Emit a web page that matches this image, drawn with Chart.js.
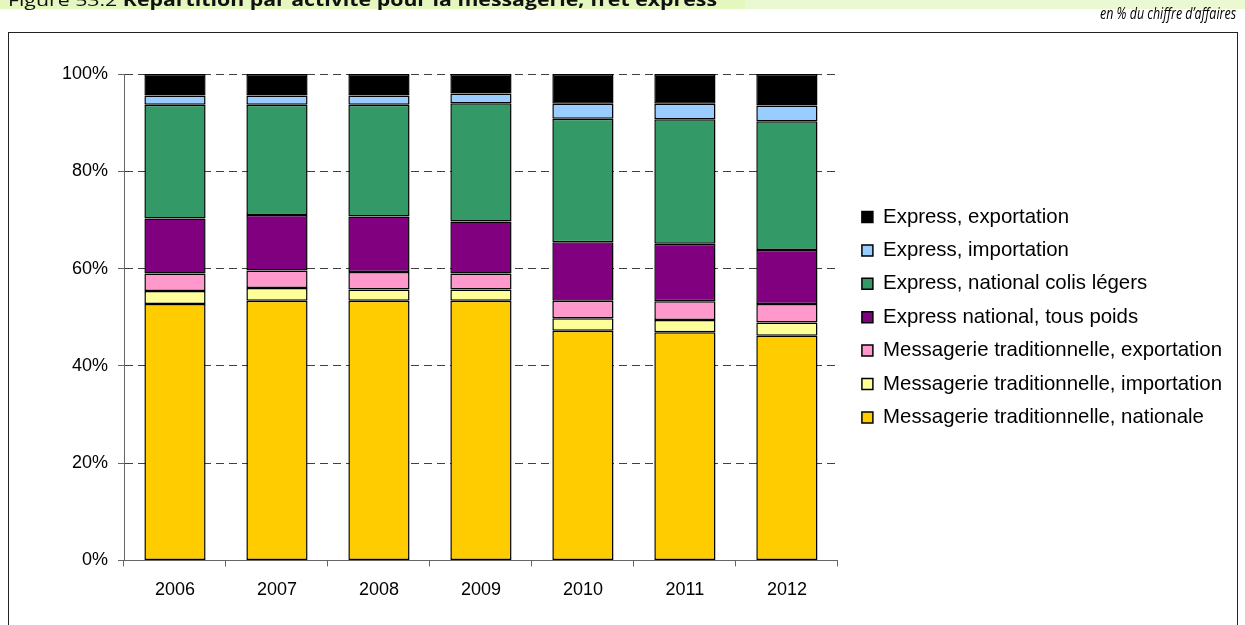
<!DOCTYPE html>
<html lang="fr">
<head>
<meta charset="utf-8">
<title>Répartition par activité pour la messagerie, fret express</title>
<script src="https://cdn.jsdelivr.net/npm/chart.js@4.4.1/dist/chart.umd.min.js"></script>
<style>
  html, body { margin: 0; padding: 0; background: #ffffff; }
  #wrap { position: relative; width: 1245px; height: 625px; overflow: hidden; }
  canvas { display: block; }
</style>
</head>
<body>
<div id="wrap"><canvas id="chart" width="1245" height="625"></canvas></div>
<script>
const years = ["2006", "2007", "2008", "2009", "2010", "2011", "2012"];

// % du chiffre d'affaires, bottom of stack first
const tradNationale      = [52.7, 53.4, 53.4, 53.4, 47.2, 46.9, 46.2];
const tradImportation    = [2.7, 2.6, 2.3, 2.3, 2.6, 2.5, 2.7];
const tradExportation    = [3.6, 3.6, 3.6, 3.3, 3.6, 3.9, 3.8];
const expressTousPoids   = [11.3, 11.4, 11.4, 10.7, 12.0, 11.8, 11.1];
const expressColisLegers = [23.4, 22.7, 23.0, 24.3, 25.4, 25.6, 26.5];
const expressImportation = [1.9, 1.9, 1.9, 2.0, 3.1, 3.2, 3.2];
const expressExportation = [4.4, 4.4, 4.4, 4.0, 6.1, 6.1, 6.5];

const yTicks = [0, 20, 40, 60, 80, 100];

const FONT = "'Liberation Sans', Arial, sans-serif";

function series(label, data, color) {
  return {
    label,
    data,
    backgroundColor: color,
    borderColor: "#000000",
    borderWidth: 1.5,
    borderSkipped: false,
    categoryPercentage: 1,
    barPercentage: 0.6,
  };
}

// header band, titles and outer frame drawn on the same canvas
const pageFramePlugin = {
  id: "pageFrame",
  beforeDraw(chart) {
    const ctx = chart.ctx;
    ctx.save();
    ctx.fillStyle = "#ebf9d3";
    ctx.fillRect(0, 0, chart.width, 9);
    ctx.fillStyle = "#e3f7bf";
    ctx.fillRect(0, 0, 745, 9);

    ctx.strokeStyle = "#222222";
    ctx.lineWidth = 1;
    ctx.strokeRect(8.5, 32.5, 1229, 640);
    ctx.restore();
  },
  afterDraw(chart) {
    const ctx = chart.ctx;
    ctx.save();
    ctx.fillStyle = "#111111";
    ctx.textBaseline = "alphabetic";

    // title: regular prefix + bold text, squeezed to the reference width
    const prefix = "Figure 53.2 ";
    const main = "Répartition par activité pour la messagerie, fret express";
    const regFont = "17px 'Open Sans', sans-serif";
    const boldFont = "bold 17px 'Open Sans', sans-serif";
    ctx.font = regFont;
    const w1 = ctx.measureText(prefix).width;
    ctx.font = boldFont;
    const w2 = ctx.measureText(main).width;
    const sx = 709 / (w1 + w2);
    ctx.translate(8, 6);
    ctx.scale(sx, 1);
    ctx.font = regFont;
    ctx.fillText(prefix, 0, 0);
    ctx.font = boldFont;
    ctx.fillText(main, w1, 0);
    ctx.setTransform(1, 0, 0, 1, 0, 0);

    // unit note, right aligned
    const note = "en % du chiffre d’affaires";
    ctx.font = "italic 16px 'Open Sans', sans-serif";
    const wn = ctx.measureText(note).width;
    const sn = 136 / wn;
    ctx.translate(1236, 19);
    ctx.scale(sn, 1);
    ctx.textAlign = "right";
    ctx.fillStyle = "#000000";
    ctx.fillText(note, 0, 0);
    ctx.restore();
  }
};

// nudge the legend a bit away from the plot, as in the original
const legendShiftPlugin = {
  id: "legendShift",
  afterLayout(chart) {
    if (!chart.legend) return;
    chart.legend.left += 11;
    chart.legend.right += 11;
  }
};

const config = {
  type: "bar",
  data: {
    labels: years,
    datasets: [
      series("Messagerie traditionnelle, nationale", tradNationale, "#ffcc00"),
      series("Messagerie traditionnelle, importation", tradImportation, "#ffff99"),
      series("Messagerie traditionnelle, exportation", tradExportation, "#ff99cc"),
      series("Express national, tous poids", expressTousPoids, "#800080"),
      series("Express, national colis légers", expressColisLegers, "#339966"),
      series("Express, importation", expressImportation, "#99ccff"),
      series("Express, exportation", expressExportation, "#000000"),
    ]
  },
  options: {
    responsive: false,
    animation: false,
    events: [],
    layout: { padding: { top: 74, left: 8, right: 24, bottom: 11 } },
    plugins: {
      title: { display: false },
      tooltip: { enabled: false },
      legend: {
        display: true,
        position: "right",
        fullSize: false,
        reverse: true,
        maxWidth: 420,
        labels: {
          color: "#000000",
          font: { family: FONT, size: 20.4 },
          boxWidth: 11,
          boxHeight: 11,
          padding: 13,
        }
      }
    },
    scales: {
      x: {
        stacked: true,
        offset: true,
        grid: {
          display: true,
          offset: true,
          drawOnChartArea: false,
          drawTicks: true,
          tickLength: 6,
          color: "#666666",
        },
        border: { display: true, color: "#666666", width: 1 },
        ticks: {
          color: "#000000",
          font: { family: FONT, size: 18 },
          padding: 13,
          maxRotation: 0,
        }
      },
      y: {
        stacked: true,
        min: 0,
        max: 100,
        afterFit(scale) { scale.width = 116; },
        afterBuildTicks(scale) { scale.ticks = yTicks.map((v) => ({ value: v })); },
        grid: {
          color: "#404040",
          lineWidth: 1,
          tickLength: 6,
          tickColor: "#666666",
          tickBorderDash: [],
        },
        border: { display: true, color: "#666666", width: 1, dash: [8, 5] },
        ticks: {
          color: "#000000",
          font: { family: FONT, size: 18 },
          padding: 10,
          callback: (v) => `${v}%`,
        }
      }
    }
  },
  plugins: [pageFramePlugin, legendShiftPlugin]
};

// eslint-disable-next-line no-undef
const chart = new Chart(document.getElementById("chart").getContext("2d"), config);
</script>
</body>
</html>
